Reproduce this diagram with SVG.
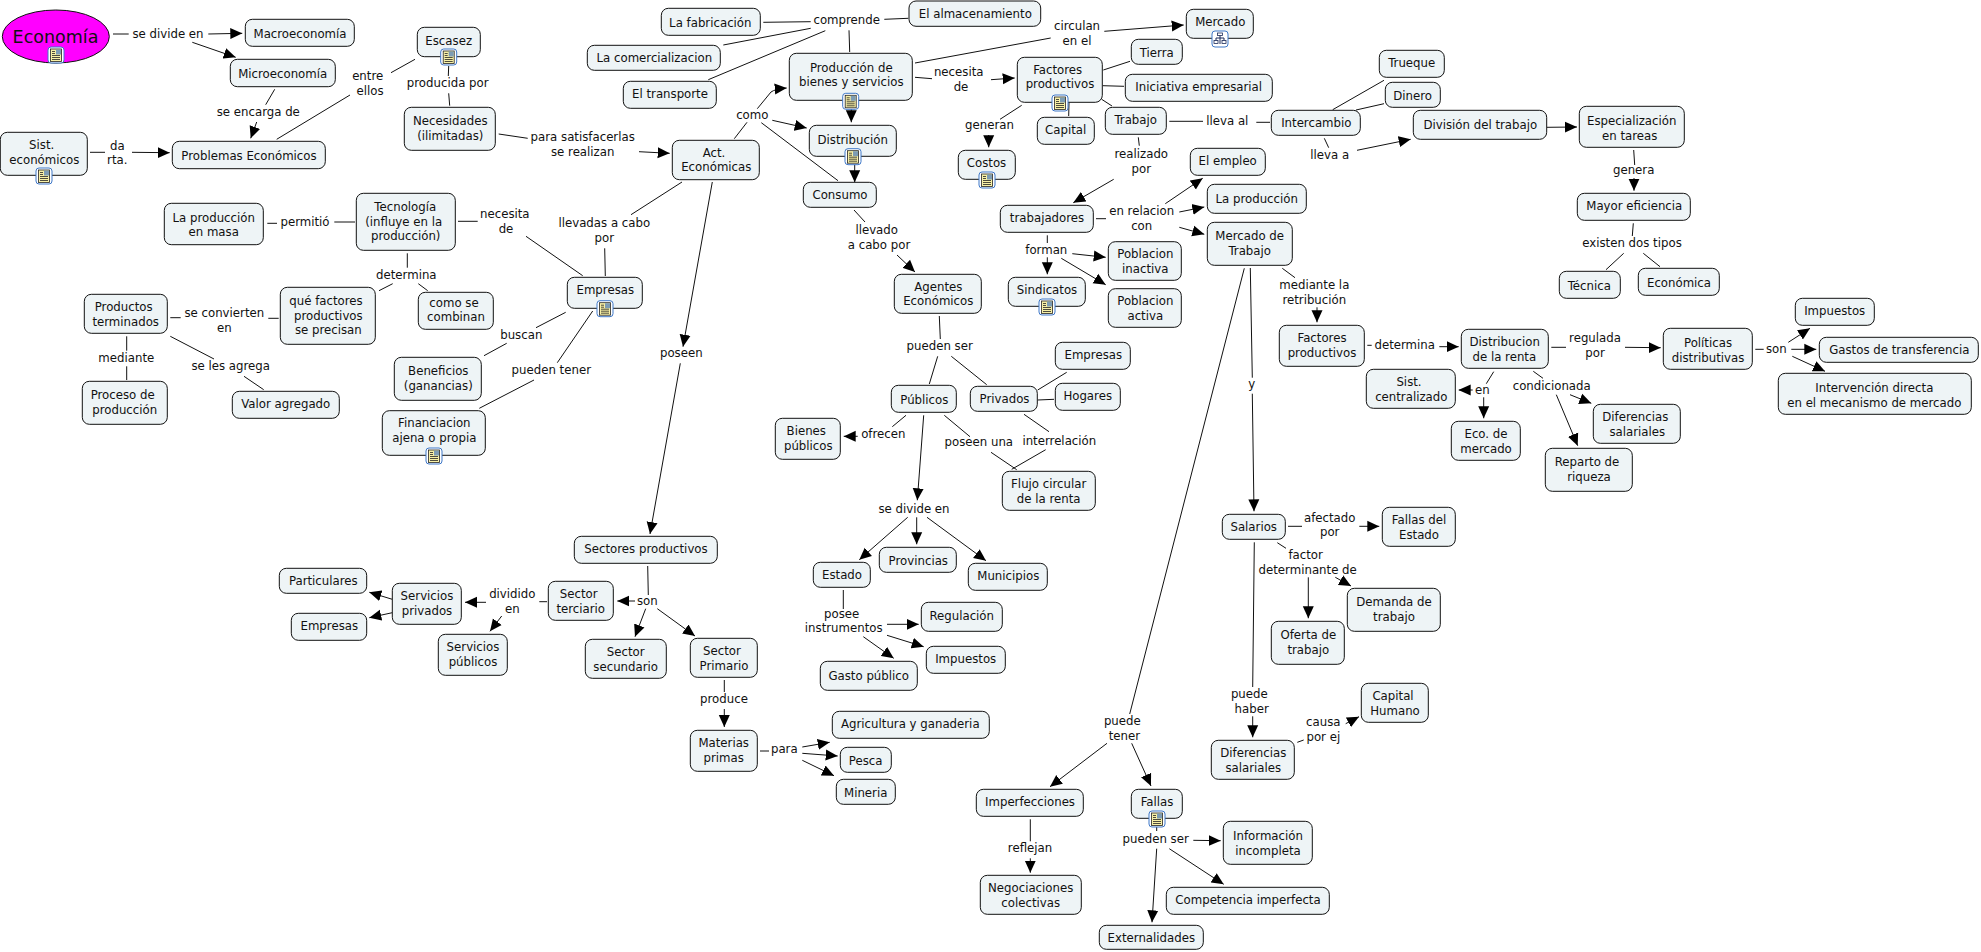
<svg xmlns="http://www.w3.org/2000/svg" xmlns:xlink="http://www.w3.org/1999/xlink" width="1981" height="952" viewBox="0 0 1981 952">
<style>
text{font-family:"DejaVu Sans","Liberation Sans",sans-serif;font-size:11.75px;fill:#111;text-anchor:middle}
.n{fill:#eef4f6;stroke:#111;stroke-width:1}
.c,.a{fill:none;stroke:#111;stroke-width:1}
.a{marker-end:url(#arrow)}
</style>
<defs>
<marker id="arrow" markerUnits="userSpaceOnUse" markerWidth="12" markerHeight="12" viewBox="0 0 12 12" refX="12" refY="6" orient="auto"><path d="M0,0.5L12,6L0,11.5z" fill="#000"/></marker>
<symbol id="doc" overflow="visible"><rect x="-8" y="-8" width="16" height="16" rx="3" fill="#fff" stroke="#3f78c8"/><rect x="-5.5" y="-6" width="11" height="12.5" fill="#f7f0a6" stroke="#222" stroke-width=".8"/><rect x="0" y="-5.5" width="5" height="5" fill="#7d9cb4"/><path d="M-4,-3.5h3M-4,-1.5h3M-4,.5h8M-4,2.5h8M-4,4.5h8" stroke="#222" stroke-width=".8"/></symbol>
<symbol id="map" overflow="visible"><rect x="-8" y="-8" width="16" height="16" rx="3" fill="#fff" stroke="#3f78c8"/><path d="M0,-4V-1M-4,-1H4M-4,-1V3M4,-1V3M0,-1V5" stroke="#1a2a5a"/><rect x="-2.5" y="-6" width="5" height="2.5" fill="#fff" stroke="#1a2a5a" stroke-width=".8"/><rect x="-6" y="1.5" width="4" height="3" fill="#fff" stroke="#1a2a5a" stroke-width=".8"/><rect x="2" y="1.5" width="4" height="3" fill="#fff" stroke="#1a2a5a" stroke-width=".8"/></symbol>
</defs>
<rect width="1981" height="952" fill="#fff"/>
<g id="connectors">
<path class="c" d="M113,34H128.7"/><path class="a" d="M208.3,34L242.3,33.3"/><path class="a" d="M192.3,42.3L235.7,57.3"/>
<path class="c" d="M274.7,89.3L265.7,104.7"/><path class="a" d="M256.7,122L250.7,138.3"/>
<path class="c" d="M90,152.3H105"/><path class="a" d="M132,152.3L169.7,152.7"/>
<path class="c" d="M276.7,139.3L350,95"/><path class="c" d="M391,72.7L415,59.3"/>
<path class="c" d="M448.7,66L448.3,76"/><path class="c" d="M448.7,93.3L449.7,105.7"/>
<path class="c" d="M498.7,134L527.7,138.3"/><path class="a" d="M639,151.7L669.7,153.3"/>
<path class="c" d="M267.3,223.3H277"/><path class="c" d="M334.3,222H355"/>
<path class="c" d="M458,221.3H477.7"/><path class="c" d="M526,236.3L582.7,275.7"/>
<path class="c" d="M407.3,253.3V267.7"/><path class="c" d="M379,290.7L392.7,283.7"/><path class="c" d="M418.3,283.7L427.7,290.7"/>
<path class="c" d="M170.3,317.7H180.7"/><path class="c" d="M268.3,318.3H278.7"/>
<path class="c" d="M170.3,336.3L214,359"/><path class="c" d="M244,376.3L263.7,389.7"/>
<path class="c" d="M126.7,336.3V350.7"/><path class="c" d="M126.7,366.3V380"/>
<path class="c" d="M763.3,22.3L810.7,21.7"/><path class="c" d="M723.3,45L810.7,28.3"/><path class="c" d="M708.3,79.7L825.3,30.7"/>
<path class="c" d="M884.3,19.3L908.3,18.3"/><path class="c" d="M849,30.3L849.7,52"/>
<path class="c" d="M915,63L1050.7,38"/><path class="a" d="M1104.3,31.3L1183.7,25"/>
<path class="c" d="M915,77.3L932,78.7"/><path class="a" d="M991,79.7L1014.7,78"/>
<path class="c" d="M1021.7,105.3L1000,119.3"/><path class="a" d="M988.7,135V147.3"/>
<path class="c" d="M734.3,138.7L747,122.3"/><path class="a" d="M757.3,108.7L771,92Q775,89 786.7,88"/>
<path class="a" d="M772.3,120.3L806.7,128"/><path class="c" d="M761.3,122.7L838,180.7"/>
<path class="a" d="M851.3,108V122.3"/><path class="a" d="M854.7,164V182.3"/>
<path class="c" d="M854,210L865,222"/><path class="a" d="M897,255L915,272"/>
<path class="c" d="M682,182L631,214.7"/><path class="c" d="M604.7,248.3L605.3,276"/>
<path class="a" d="M712.3,182L683,346.7"/><path class="a" d="M680.3,363.3L650,534"/>
<path class="c" d="M565.7,312.3L536,327.7"/><path class="c" d="M506.7,343.3L484,355.7"/>
<path class="c" d="M592.7,311L557.3,362.7"/><path class="c" d="M534,380L479.3,408.3"/>
<path class="c" d="M1103.3,70L1130,61.3"/><path class="c" d="M1102.7,85.7L1124,86.3"/><path class="c" d="M1101.7,99.3L1112,106"/><path class="c" d="M1069,102.7L1068.7,116"/>
<path class="c" d="M1169.3,121.3H1203"/><path class="c" d="M1256.3,122.3H1270"/>
<path class="c" d="M1332.7,109.7L1384,80.3"/><path class="c" d="M1356,110L1384,103.7"/>
<path class="c" d="M1324.3,138.3L1328.7,147.7"/><path class="a" d="M1357,150.3L1410.7,139.3"/>
<path class="c" d="M1138.3,137.3L1139.3,145.7"/><path class="a" d="M1113.7,179.3L1073.3,202.7"/>
<path class="c" d="M1096,218.7H1106"/><path class="a" d="M1165.3,203.7L1202.7,178.3"/><path class="a" d="M1179.3,212L1204.3,207"/><path class="a" d="M1179.3,227.3L1204.3,234.3"/>
<path class="c" d="M1047.3,235.3V243"/><path class="a" d="M1047.3,257.3V274.3"/><path class="a" d="M1072.3,253.7L1105.7,257.3"/><path class="a" d="M1061.3,258.3L1105.7,284.7"/>
<path class="c" d="M1282.3,268.3L1295,277.7"/><path class="a" d="M1317,307.3V322.3"/>
<path class="c" d="M1250.3,268L1252.3,377.7"/><path class="a" d="M1252.3,393.7L1254,511.3"/>
<path class="c" d="M1244.3,268.3L1129.7,714"/><path class="a" d="M1107,743.3L1050,786.7"/><path class="a" d="M1131.7,743.3L1151,786"/>
<path class="c" d="M1030.3,819.3V841.3"/><path class="a" d="M1030.3,858.3V872.7"/>
<path class="c" d="M1156.7,826V831"/><path class="a" d="M1193.3,840.3L1220.7,840.7"/><path class="a" d="M1169.3,848.7L1223.7,884.3"/><path class="a" d="M1156.7,848.7L1152,922.3"/>
<path class="c" d="M1367.3,345.3H1371.7"/><path class="a" d="M1439.3,346.7H1458.7"/>
<path class="c" d="M1493.7,371.7L1486.3,383.7"/><path class="a" d="M1472.7,390H1458.7"/><path class="a" d="M1483.7,397.3V418.3"/>
<path class="c" d="M1551.3,347.3H1566"/><path class="a" d="M1625,347.3L1660.7,347.7"/>
<path class="c" d="M1533.3,371.3L1543,378.3"/><path class="a" d="M1570,394.7L1591.3,403.3"/><path class="a" d="M1556.3,394.7L1577.7,445.7"/>
<path class="c" d="M1755.3,349.3H1763.7"/><path class="a" d="M1788.3,342.3L1810,328.3"/><path class="a" d="M1791.3,349.3H1816.3"/><path class="a" d="M1792.3,356.3L1825,371.3"/>
<path class="a" d="M1547,127.3L1577,127"/><path class="c" d="M1633.7,150L1634.7,165"/><path class="a" d="M1634,178V190.7"/>
<path class="c" d="M1633.3,223.3L1632.3,236"/><path class="c" d="M1623.7,253.3L1606,269.7"/><path class="c" d="M1643.3,253.3L1660,266.7"/>
<path class="c" d="M939.3,316L940.3,339"/><path class="c" d="M937.7,356.3L929.3,384"/><path class="c" d="M951.3,356.3L986.7,384.7"/>
<path class="c" d="M906,415.3L892.3,426.7"/><path class="a" d="M857.7,436.3H843.7"/>
<path class="a" d="M923.7,415.3L917.3,500.3"/><path class="a" d="M907.7,517.3L859.3,559.7"/><path class="a" d="M916.7,517.3V544.3"/><path class="a" d="M927,517.3L986,560.7"/>
<path class="c" d="M944.3,415.3L970,436.7"/><path class="c" d="M991,452.3L1016.7,469.7"/>
<path class="c" d="M1024,414.3L1049,431.7"/><path class="c" d="M1045.7,449.7L1011.7,469.3"/>
<path class="c" d="M1037.7,390L1066.7,372.3"/><path class="c" d="M1037.7,400L1054,399.3"/>
<path class="c" d="M843.3,590V609"/><path class="a" d="M887,624.3H918.7"/><path class="a" d="M887,635.3L923.7,646.7"/><path class="a" d="M863.3,636.7L893.7,658.3"/>
<path class="c" d="M1288,526.3H1302"/><path class="a" d="M1359.3,526.3H1379.3"/>
<path class="c" d="M1277.3,542.7L1286,548.3"/><path class="a" d="M1335.3,577.3L1351,586"/><path class="a" d="M1308.3,577.3V618.3"/>
<path class="c" d="M1254.3,542.3L1252.7,687"/><path class="a" d="M1252.7,716.3V737.3"/>
<path class="c" d="M1297.3,742.3L1303.7,740"/><path class="a" d="M1345.7,723.7L1359,716.7"/>
<path class="c" d="M647.7,566L648.3,595"/><path class="a" d="M635,601H617.3"/><path class="a" d="M645.7,608.7L635,636.7"/><path class="a" d="M657.3,608.7L695,636"/>
<path class="c" d="M539.3,601.7H547"/><path class="a" d="M486,602.3H465"/><path class="a" d="M501.7,616L490,631.3"/>
<path class="a" d="M392.3,599.3L369.3,592.3"/><path class="a" d="M392.3,612.7L369.3,617.7"/>
<path class="c" d="M724.3,680V692"/><path class="a" d="M724.3,709V727"/>
<path class="c" d="M760,751H769"/><path class="a" d="M802.3,747L829.7,742.3"/><path class="a" d="M802.3,753.3L837.7,756"/><path class="a" d="M802.3,760.3L834,775.7"/>
</g>
<g id="n-economia"><ellipse cx="55.8" cy="36.5" rx="53.5" ry="26.5" fill="#f0f" stroke="#111"/><text x="55.5" y="43" style="font-size:17.5px">Economía</text><use xlink:href="#doc" href="#doc" x="56" y="55"/></g>
<g id="n-macro"><rect class="n" x="245.3" y="19.3" width="109" height="27" rx="7"/><text x="300" y="37.7">Macroeconomía</text></g>
<g id="n-micro"><rect class="n" x="230.3" y="59.3" width="105" height="27.4" rx="7"/><text x="282.7" y="77.7">Microeconomía</text></g>
<g id="n-escasez"><rect class="n" x="417.3" y="27.3" width="63" height="29.4" rx="7"/><text x="448.7" y="44.7">Escasez</text><use xlink:href="#doc" href="#doc" x="448.7" y="57"/></g>
<g id="n-necesidades"><rect class="n" x="404.3" y="107.3" width="91" height="43" rx="7"/><text x="450.3" y="125">Necesidades</text><text x="450.3" y="139.7">(ilimitadas)</text></g>
<g id="n-sist"><rect class="n" x=".3" y="132.3" width="87" height="43" rx="7"/><text x="41.7" y="149">Sist.</text><text x="44.3" y="163.7">económicos</text><use xlink:href="#doc" href="#doc" x="44" y="176"/></g>
<g id="n-problemas"><rect class="n" x="172.3" y="141.3" width="153" height="27.4" rx="7"/><text x="249" y="159.7">Problemas Económicos</text></g>
<g id="n-prodmasa"><rect class="n" x="164.3" y="203.3" width="99" height="41.4" rx="7"/><text x="213.7" y="221.7">La producción</text><text x="213.7" y="236.3">en masa</text></g>
<g id="n-tecnologia"><rect class="n" x="356.3" y="193.3" width="99" height="57" rx="7"/><text x="405.3" y="211">Tecnología</text><text x="403.7" y="225.7">(influye en la</text><text x="405.7" y="240.3">producción)</text></g>
<g id="n-quefactores"><rect class="n" x="280.3" y="287.3" width="95" height="57" rx="7"/><text x="326" y="305">qué factores</text><text x="328.3" y="319.5">productivos</text><text x="328.3" y="334.3">se precisan</text></g>
<g id="n-comose"><rect class="n" x="418.3" y="292.3" width="75" height="37" rx="7"/><text x="454" y="307">como se</text><text x="456" y="321.3">combinan</text></g>
<g id="n-productos"><rect class="n" x="84.3" y="294.3" width="83" height="39" rx="7"/><text x="123.7" y="311">Productos</text><text x="125.7" y="325.7">terminados</text></g>
<g id="n-proceso"><rect class="n" x="82.3" y="381.3" width="85" height="43" rx="7"/><text x="122.7" y="399.3">Proceso de</text><text x="124.7" y="414">producción</text></g>
<g id="n-valor"><rect class="n" x="232.3" y="391.3" width="107" height="27" rx="7"/><text x="285.7" y="408.3">Valor agregado</text></g>
<g id="n-beneficios"><rect class="n" x="394.3" y="357.3" width="87" height="43" rx="7"/><text x="438.3" y="375.3">Beneficios</text><text x="438.3" y="390">(ganancias)</text></g>
<g id="n-financiacion"><rect class="n" x="382.3" y="410.7" width="103" height="44.6" rx="7"/><text x="434.3" y="427">Financiacion</text><text x="434.3" y="441.7">ajena o propia</text><use xlink:href="#doc" href="#doc" x="434" y="456"/></g>
<g id="n-fabricacion"><rect class="n" x="661.3" y="8.3" width="99" height="27" rx="7"/><text x="710.3" y="26.7">La fabricación</text></g>
<g id="n-comercial"><rect class="n" x="587.3" y="45.3" width="133" height="25" rx="7"/><text x="654.3" y="62">La comercializacion</text></g>
<g id="n-transporte"><rect class="n" x="623.3" y="81.3" width="93" height="27" rx="7"/><text x="670" y="98.3">El transporte</text></g>
<g id="n-almacen"><rect class="n" x="909" y="1" width="131.7" height="25.3" rx="7"/><text x="975.3" y="18.3">El almacenamiento</text></g>
<g id="n-produccion"><rect class="n" x="789.3" y="53.3" width="123" height="47" rx="7"/><text x="851.3" y="72">Producción de</text><text x="851.3" y="86.3">bienes y servicios</text><use xlink:href="#doc" href="#doc" x="850.7" y="101.3"/></g>
<g id="n-distribucion"><rect class="n" x="809.3" y="125.3" width="87" height="31" rx="7"/><text x="852.7" y="143.7">Distribución</text><use xlink:href="#doc" href="#doc" x="853" y="156.7"/></g>
<g id="n-consumo"><rect class="n" x="803.3" y="182.3" width="73" height="25" rx="7"/><text x="840" y="199">Consumo</text></g>
<g id="n-act"><rect class="n" x="672.3" y="140.3" width="87" height="39.4" rx="7"/><text x="714" y="156.7">Act.</text><text x="716.3" y="171.3">Económicas</text></g>
<g id="n-empresas"><rect class="n" x="567.3" y="277.3" width="75" height="31" rx="7"/><text x="605.3" y="294">Empresas</text><use xlink:href="#doc" href="#doc" x="605" y="308.7"/></g>
<g id="n-agentes"><rect class="n" x="894.3" y="274.3" width="87" height="39" rx="7"/><text x="938.3" y="291">Agentes</text><text x="938.3" y="305.3">Económicos</text></g>
<g id="n-costos"><rect class="n" x="958.3" y="150.3" width="57" height="29" rx="7"/><text x="986.5" y="167">Costos</text><use xlink:href="#doc" href="#doc" x="987" y="180"/></g>
<g id="n-mercado"><rect class="n" x="1186.3" y="9.3" width="67" height="29" rx="7"/><text x="1220.3" y="26">Mercado</text><use xlink:href="#map" href="#map" x="1220" y="39"/></g>
<g id="n-tierra"><rect class="n" x="1131.3" y="39.3" width="51" height="25" rx="7"/><text x="1156.7" y="56.7">Tierra</text></g>
<g id="n-factores"><rect class="n" x="1017.3" y="57.3" width="85" height="45" rx="7"/><text x="1057.7" y="73.7">Factores</text><text x="1060" y="88.3">productivos</text><use xlink:href="#doc" href="#doc" x="1060" y="103"/></g>
<g id="n-iniciativa"><rect class="n" x="1125.3" y="74.3" width="147" height="27" rx="7"/><text x="1198.7" y="91.3">Iniciativa empresarial</text></g>
<g id="n-trabajo"><rect class="n" x="1105.3" y="107.3" width="61" height="27" rx="7"/><text x="1135.7" y="124.3">Trabajo</text></g>
<g id="n-capital"><rect class="n" x="1037.3" y="117.3" width="57" height="27" rx="7"/><text x="1065.7" y="134.3">Capital</text></g>
<g id="n-trueque"><rect class="n" x="1379.3" y="50.3" width="65" height="27" rx="7"/><text x="1411.7" y="67">Trueque</text></g>
<g id="n-dinero"><rect class="n" x="1385.3" y="82.3" width="55" height="25" rx="7"/><text x="1412.7" y="100">Dinero</text></g>
<g id="n-intercambio"><rect class="n" x="1271.3" y="110.3" width="89" height="25" rx="7"/><text x="1316.3" y="127.3">Intercambio</text></g>
<g id="n-division"><rect class="n" x="1413.3" y="110.3" width="133.4" height="29" rx="7"/><text x="1480.3" y="129">División del trabajo</text></g>
<g id="n-empleo"><rect class="n" x="1190.3" y="148.3" width="75" height="27" rx="7"/><text x="1227.7" y="165.3">El empleo</text></g>
<g id="n-laprod"><rect class="n" x="1207.3" y="184.3" width="99" height="29" rx="7"/><text x="1256.7" y="203">La producción</text></g>
<g id="n-mercadotrab"><rect class="n" x="1207.3" y="222.3" width="85" height="43" rx="7"/><text x="1249.7" y="240.3">Mercado de</text><text x="1249.7" y="255">Trabajo</text></g>
<g id="n-trabajadores"><rect class="n" x="1000.3" y="205.3" width="93" height="27" rx="7"/><text x="1047" y="222.3">trabajadores</text></g>
<g id="n-inactiva"><rect class="n" x="1108.3" y="241.7" width="73" height="38.6" rx="7"/><text x="1145.3" y="258.3">Poblacion</text><text x="1145.3" y="273">inactiva</text></g>
<g id="n-activa"><rect class="n" x="1108.3" y="288.7" width="73" height="38.6" rx="7"/><text x="1145.3" y="305.3">Poblacion</text><text x="1145.3" y="320">activa</text></g>
<g id="n-sindicatos"><rect class="n" x="1008.3" y="277.3" width="77" height="29" rx="7"/><text x="1047" y="294.3">Sindicatos</text><use xlink:href="#doc" href="#doc" x="1047" y="307"/></g>
<g id="n-especial"><rect class="n" x="1579.3" y="106.3" width="105" height="41" rx="7"/><text x="1631.7" y="125">Especialización</text><text x="1629.7" y="139.7">en tareas</text></g>
<g id="n-mayor"><rect class="n" x="1577.3" y="193.3" width="113" height="27" rx="7"/><text x="1634.3" y="210.3">Mayor eficiencia</text></g>
<g id="n-tecnica"><rect class="n" x="1559.3" y="271.3" width="61" height="27" rx="7"/><text x="1589.3" y="290">Técnica</text></g>
<g id="n-economica"><rect class="n" x="1638.3" y="268.3" width="81" height="27" rx="7"/><text x="1679" y="287">Económica</text></g>
<g id="n-impuestos1"><rect class="n" x="1795.3" y="298.3" width="79" height="27" rx="7"/><text x="1834.7" y="315">Impuestos</text></g>
<g id="n-distrenta"><rect class="n" x="1461.3" y="329.3" width="87" height="39" rx="7"/><text x="1504.7" y="346">Distribucion</text><text x="1504.3" y="360.7">de la renta</text></g>
<g id="n-politicas"><rect class="n" x="1663.3" y="328.3" width="89" height="41" rx="7"/><text x="1708" y="347">Políticas</text><text x="1708" y="361.7">distributivas</text></g>
<g id="n-gastos"><rect class="n" x="1819.3" y="337.3" width="159" height="25" rx="7"/><text x="1899.3" y="354">Gastos de transferencia</text></g>
<g id="n-intervencion"><rect class="n" x="1778.3" y="373.3" width="193" height="41" rx="7"/><text x="1874.3" y="392">Intervención directa</text><text x="1874.3" y="406.7">en el mecanismo de mercado</text></g>
<g id="n-difsal1"><rect class="n" x="1593.3" y="404.3" width="87" height="39" rx="7"/><text x="1635.3" y="421.3">Diferencias</text><text x="1637.3" y="436">salariales</text></g>
<g id="n-reparto"><rect class="n" x="1545.3" y="448.3" width="87" height="43" rx="7"/><text x="1587" y="466">Reparto de</text><text x="1589" y="481">riqueza</text></g>
<g id="n-eco"><rect class="n" x="1451.3" y="421.3" width="69" height="39" rx="7"/><text x="1486" y="438.3">Eco. de</text><text x="1486" y="453">mercado</text></g>
<g id="n-factores2"><rect class="n" x="1279.3" y="325.3" width="85" height="41" rx="7"/><text x="1322" y="342">Factores</text><text x="1322" y="356.7">productivos</text></g>
<g id="n-centralizado"><rect class="n" x="1366.3" y="369.3" width="89" height="39" rx="7"/><text x="1409" y="386">Sist.</text><text x="1411.3" y="400.7">centralizado</text></g>
<g id="n-empresas2"><rect class="n" x="1055.3" y="342.3" width="75" height="27" rx="7"/><text x="1093.3" y="359">Empresas</text></g>
<g id="n-hogares"><rect class="n" x="1055.3" y="383.3" width="65" height="27" rx="7"/><text x="1087.7" y="400">Hogares</text></g>
<g id="n-privados"><rect class="n" x="970.3" y="386.3" width="67" height="25" rx="7"/><text x="1004.5" y="403.3">Privados</text></g>
<g id="n-flujo"><rect class="n" x="1002.3" y="471.3" width="93" height="39" rx="7"/><text x="1048.7" y="488">Flujo circular</text><text x="1048.7" y="503">de la renta</text></g>
<g id="n-salarios"><rect class="n" x="1222.3" y="514.3" width="63" height="25" rx="7"/><text x="1253.7" y="531.3">Salarios</text></g>
<g id="n-fallasest"><rect class="n" x="1382.3" y="507.3" width="73" height="39" rx="7"/><text x="1419" y="524.3">Fallas del</text><text x="1419" y="539">Estado</text></g>
<g id="n-demanda"><rect class="n" x="1347.3" y="588.3" width="93" height="43" rx="7"/><text x="1394" y="606.3">Demanda de</text><text x="1394" y="621">trabajo</text></g>
<g id="n-municipios"><rect class="n" x="968.3" y="563.3" width="79" height="27" rx="7"/><text x="1008.3" y="580.3">Municipios</text></g>
<g id="n-publicos"><rect class="n" x="891.3" y="385.3" width="65" height="27" rx="7"/><text x="924.3" y="403.7">Públicos</text></g>
<g id="n-bienes"><rect class="n" x="775.3" y="418.3" width="65" height="41" rx="7"/><text x="806.3" y="435">Bienes</text><text x="808.3" y="449.7">públicos</text></g>
<g id="n-sectores"><rect class="n" x="574.3" y="536.3" width="143" height="27" rx="7"/><text x="646" y="553.3">Sectores productivos</text></g>
<g id="n-estado"><rect class="n" x="813.3" y="562.3" width="57" height="25" rx="7"/><text x="842" y="579.3">Estado</text></g>
<g id="n-provincias"><rect class="n" x="879.3" y="547.3" width="77" height="25" rx="7"/><text x="918.3" y="565">Provincias</text></g>
<g id="n-terciario"><rect class="n" x="548.3" y="581.3" width="65" height="39" rx="7"/><text x="578.7" y="598.3">Sector</text><text x="580.7" y="612.7">terciario</text></g>
<g id="n-particulares"><rect class="n" x="279.3" y="568.3" width="87.4" height="25" rx="7"/><text x="323.3" y="585.3">Particulares</text></g>
<g id="n-servpriv"><rect class="n" x="392.3" y="583.3" width="69" height="41" rx="7"/><text x="427" y="600">Servicios</text><text x="427" y="614.7">privados</text></g>
<g id="n-empresas3"><rect class="n" x="291.3" y="613.3" width="75.4" height="27" rx="7"/><text x="329.3" y="630">Empresas</text></g>
<g id="n-servpub"><rect class="n" x="438.3" y="634.3" width="69" height="41" rx="7"/><text x="473" y="651.3">Servicios</text><text x="473" y="665.7">públicos</text></g>
<g id="n-secundario"><rect class="n" x="585.3" y="639.3" width="81" height="39" rx="7"/><text x="625.7" y="656">Sector</text><text x="625.7" y="670.7">secundario</text></g>
<g id="n-primario"><rect class="n" x="690.3" y="638.3" width="67" height="39" rx="7"/><text x="722" y="655">Sector</text><text x="724" y="669.7">Primario</text></g>
<g id="n-materias"><rect class="n" x="690.3" y="730.3" width="67" height="41" rx="7"/><text x="723.7" y="747">Materias</text><text x="723.7" y="761.7">primas</text></g>
<g id="n-gasto"><rect class="n" x="820.3" y="661.3" width="97" height="29" rx="7"/><text x="868.7" y="680">Gasto público</text></g>
<g id="n-impuestos2"><rect class="n" x="926.3" y="646.3" width="79" height="27" rx="7"/><text x="965.7" y="663">Impuestos</text></g>
<g id="n-regulacion"><rect class="n" x="921.3" y="602.3" width="81" height="29" rx="7"/><text x="961.7" y="620">Regulación</text></g>
<g id="n-agricultura"><rect class="n" x="832.3" y="711.3" width="157" height="27" rx="7"/><text x="910.3" y="728.3">Agricultura y ganaderia</text></g>
<g id="n-pesca"><rect class="n" x="840.3" y="747.3" width="51" height="25" rx="7"/><text x="865.7" y="765">Pesca</text></g>
<g id="n-mineria"><rect class="n" x="836.3" y="779.3" width="59" height="25" rx="7"/><text x="865.7" y="797">Mineria</text></g>
<g id="n-imperfecciones"><rect class="n" x="976.3" y="789.3" width="107" height="27" rx="7"/><text x="1030" y="806">Imperfecciones</text></g>
<g id="n-negociaciones"><rect class="n" x="980.3" y="875.3" width="101" height="39" rx="7"/><text x="1030.7" y="892">Negociaciones</text><text x="1030.7" y="906.7">colectivas</text></g>
<g id="n-oferta"><rect class="n" x="1271.3" y="621.3" width="73" height="43" rx="7"/><text x="1308.3" y="639.3">Oferta de</text><text x="1308.3" y="654">trabajo</text></g>
<g id="n-capitalhum"><rect class="n" x="1361.3" y="683.3" width="67" height="39" rx="7"/><text x="1393" y="700.3">Capital</text><text x="1395" y="715">Humano</text></g>
<g id="n-difsal2"><rect class="n" x="1211.3" y="740.3" width="83" height="39" rx="7"/><text x="1253.3" y="757.3">Diferencias</text><text x="1253.3" y="772">salariales</text></g>
<g id="n-fallas"><rect class="n" x="1131.3" y="789.3" width="51" height="29" rx="7"/><text x="1157" y="806">Fallas</text><use xlink:href="#doc" href="#doc" x="1157" y="819"/></g>
<g id="n-informacion"><rect class="n" x="1223.3" y="821.3" width="89" height="43" rx="7"/><text x="1268" y="840">Información</text><text x="1268" y="854.7">incompleta</text></g>
<g id="n-competencia"><rect class="n" x="1166.3" y="887.3" width="163" height="27" rx="7"/><text x="1248" y="904.3">Competencia imperfecta</text></g>
<g id="n-externalidades"><rect class="n" x="1099.3" y="925.3" width="104" height="24" rx="7"/><text x="1151.3" y="942.3">Externalidades</text></g>
<g id="link-labels">
<g id="l1"><text x="168" y="38">se divide en</text></g>
<g id="l2"><text x="258.3" y="116">se encarga de</text></g>
<g id="l3"><text x="117.3" y="149.7">da</text><text x="117.3" y="164.3">rta.</text></g>
<g id="l4"><text x="367.7" y="80">entre</text><text x="370" y="94.6">ellos</text></g>
<g id="l5"><text x="447.7" y="87.3">producida por</text></g>
<g id="l6"><text x="582.7" y="141.3">para satisfacerlas</text><text x="582.7" y="156">se realizan</text></g>
<g id="l7"><text x="305" y="226.3">permitió</text></g>
<g id="l8"><text x="504.8" y="218">necesita</text><text x="506" y="232.6">de</text></g>
<g id="l9"><text x="406.3" y="279">determina</text></g>
<g id="l10"><text x="224.3" y="317">se convierten</text><text x="224.3" y="331.7">en</text></g>
<g id="l11"><text x="230.7" y="370.3">se les agrega</text></g>
<g id="l12"><text x="126.3" y="362.3">mediante</text></g>
<g id="l13"><text x="846.7" y="24.3">comprende</text></g>
<g id="l14"><text x="1077" y="30">circulan</text><text x="1077" y="44.7">en el</text></g>
<g id="l15"><text x="958.7" y="76">necesita</text><text x="961" y="90.7">de</text></g>
<g id="l16"><text x="989.5" y="129">generan</text></g>
<g id="l17"><text x="752.3" y="119.3">como</text></g>
<g id="l18"><text x="876.7" y="234.3">llevado</text><text x="879" y="249">a cabo por</text></g>
<g id="l19"><text x="604.3" y="227.3">llevadas a cabo</text><text x="604.3" y="242.3">por</text></g>
<g id="l20"><text x="681.3" y="357">poseen</text></g>
<g id="l21"><text x="521.3" y="339.3">buscan</text></g>
<g id="l22"><text x="551.3" y="374.3">pueden tener</text></g>
<g id="l23"><text x="1227.3" y="125.3">lleva al</text></g>
<g id="l24"><text x="1329.7" y="159">lleva a</text></g>
<g id="l25"><text x="1141.3" y="158.3">realizado</text><text x="1141.3" y="173.3">por</text></g>
<g id="l26"><text x="1141.7" y="215.3">en relacion</text><text x="1141.7" y="230">con</text></g>
<g id="l27"><text x="1046.3" y="254.3">forman</text></g>
<g id="l28"><text x="1314.3" y="289.3">mediante la</text><text x="1314.3" y="304">retribución</text></g>
<g id="l29"><text x="1251.7" y="388">y</text></g>
<g id="l30"><text x="1122.3" y="725.3">puede</text><text x="1124.3" y="740">tener</text></g>
<g id="l31"><text x="1030" y="852.3">reflejan</text></g>
<g id="l32"><text x="1155.7" y="843">pueden ser</text></g>
<g id="l33"><text x="1404.7" y="349.3">determina</text></g>
<g id="l34"><text x="1482.3" y="394">en</text></g>
<g id="l35"><text x="1595" y="342.3">regulada</text><text x="1595" y="357">por</text></g>
<g id="l36"><text x="1551.7" y="390.3">condicionada</text></g>
<g id="l37"><text x="1776.3" y="353.3">son</text></g>
<g id="l38"><text x="1633.7" y="174.3">genera</text></g>
<g id="l39"><text x="1632" y="247.3">existen dos tipos</text></g>
<g id="l40"><text x="939.7" y="350.3">pueden ser</text></g>
<g id="l41"><text x="883.3" y="438.3">ofrecen</text></g>
<g id="l42"><text x="914" y="513.3">se divide en</text></g>
<g id="l43"><text x="978.8" y="446">poseen una</text></g>
<g id="l44"><text x="1059.3" y="445">interrelación</text></g>
<g id="l45"><text x="841.7" y="618.3">posee</text><text x="843.7" y="632.3">instrumentos</text></g>
<g id="l46"><text x="1329.7" y="521.7">afectado</text><text x="1329.7" y="536.3">por</text></g>
<g id="l47"><text x="1305.7" y="559.3">factor</text><text x="1307.7" y="574">determinante de</text></g>
<g id="l48"><text x="1249.3" y="698.3">puede</text><text x="1251.7" y="713">haber</text></g>
<g id="l49"><text x="1323.3" y="726">causa</text><text x="1323.3" y="740.7">por ej</text></g>
<g id="l50"><text x="647.3" y="605.3">son</text></g>
<g id="l51"><text x="512.3" y="598.3">dividido</text><text x="512.3" y="613">en</text></g>
<g id="l52"><text x="724" y="703.3">produce</text></g>
<g id="l53"><text x="784.3" y="753.3">para</text></g>
</g>
</svg>
